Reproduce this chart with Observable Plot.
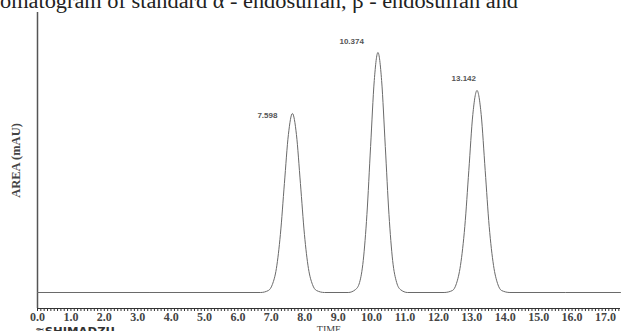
<!DOCTYPE html>
<html><head><meta charset="utf-8">
<script src="https://cdn.jsdelivr.net/npm/d3@7"></script>
<script src="https://cdn.jsdelivr.net/npm/@observablehq/plot@0.6"></script>
<style>
body{margin:0;background:#fff}
#wrap{position:relative;width:621px;height:331px;overflow:hidden;background:#fff}
#wrap svg{display:block}
</style>
</head><body><div id="wrap"></div>
<script>
// Chromatogram trace (time in min, signal in mAU-like units above baseline)
const traceTime = [
  0.00, 6.68,
  6.91, 7.03, 7.15, 7.27, 7.39, 7.51, 7.63, 7.75, 7.87, 7.99, 8.11, 8.23, 8.35,
  8.59, 9.30,
  9.52, 9.64, 9.75, 9.86, 9.97, 10.08, 10.19, 10.30, 10.41, 10.52, 10.63, 10.75, 10.86,
  11.08, 12.17,
  12.42, 12.54, 12.66, 12.79, 12.91, 13.03, 13.155, 13.28, 13.40, 13.52, 13.65, 13.77, 13.89,
  14.14, 17.45
];
const traceValue = [
  0, 0,
  2, 8, 24, 58, 109, 158, 179, 158, 109, 58, 24, 8, 2,
  0, 0,
  3, 10, 32, 78, 146, 212, 240, 212, 146, 78, 32, 10, 3,
  0, 0,
  2, 9, 27, 66, 122, 178, 202, 178, 122, 66, 27, 9, 2,
  0, 0
];
const peakLabels = ["7.598", "10.374", "13.142"];
const peakTime = [7.63, 10.19, 13.155];
const peakValue = [179, 240, 202];
const xTicks = [0, 1, 2, 3, 4, 5, 6, 7, 8, 9, 10, 11, 12, 13, 14, 15, 16, 17];
const yLabel = "AREA (mAU)";
const xLabel = "TIME";
const captionText = "omatogram of standard α - endosulfan, β - endosulfan and";
const logoText = "≋SHIMADZU";

const trace = traceTime.map((t, i) => ({t, v: traceValue[i]}));
const peaks = peakLabels.map((label, i) => ({label, t: peakTime[i], v: peakValue[i]}));

const serif = "'Liberation Serif', 'DejaVu Serif', serif";
const sans = "'Liberation Sans', Arial, sans-serif";
const labelMark = (i, dx, dy) => Plot.text([peaks[i]], {
  x: "t", y: "v", text: "label", textAnchor: "end", dx, dy,
  fontSize: 8, fontWeight: "bold", fill: "#555", fontFamily: sans
});

const chart = Plot.plot({
  width: 621, height: 331,
  marginLeft: 37, marginRight: 1, marginTop: 12, marginBottom: 23,
  style: {background: "#fff", overflow: "visible"},
  x: {domain: [0, 17.45]},
  y: {domain: [-16, 280], axis: null},
  marks: [
    Plot.axisX({ticks: 175, tickSize: 3, tickFormat: () => "", label: null, color: "#333"}),
    Plot.axisX({ticks: xTicks, tickSize: 0, tickPadding: 4, tickFormat: d3.format(".1f"),
      fontSize: 12, fontWeight: "bold", fontFamily: serif, color: "#444", label: null}),
    Plot.ruleY([-16], {stroke: "#333"}),
    Plot.ruleX([0], {stroke: "#555", strokeWidth: 1.5}),
    Plot.line(trace, {x: "t", y: "v", curve: "monotone-x", stroke: "#6a6a6a", strokeWidth: 1}),
    labelMark(0, -15, 2), labelMark(1, -14, -11), labelMark(2, -1, -12),
    Plot.text([yLabel], {text: d => d, frameAnchor: "left", textAnchor: "middle", rotate: -90, dx: -22,
      fontSize: 12.5, fontWeight: "bold", fontFamily: serif, fill: "#444"}),
    Plot.text([xLabel], {text: d => d, frameAnchor: "bottom", dy: 21, lineAnchor: "middle",
      fontSize: 10, fontFamily: serif, fill: "#444"})
  ]
});

const wrap = d3.select("#wrap");
wrap.append(() => chart);
const ov = wrap.append("svg").attr("width", 621).attr("height", 331)
  .style("position", "absolute").style("left", "0px").style("top", "0px");
ov.append("text").attr("x", 0).attr("y", 8)
  .attr("textLength", 518).attr("lengthAdjust", "spacingAndGlyphs")
  .attr("font-family", serif).attr("font-size", 20).attr("fill", "#222")
  .text(captionText);
ov.append("text").attr("x", 35).attr("y", 335)
  .attr("textLength", 80).attr("lengthAdjust", "spacingAndGlyphs")
  .attr("font-family", "'DejaVu Sans', sans-serif").attr("font-weight", "bold")
  .attr("font-size", 11).attr("fill", "#333")
  .text(logoText);
</script>
</body></html>
